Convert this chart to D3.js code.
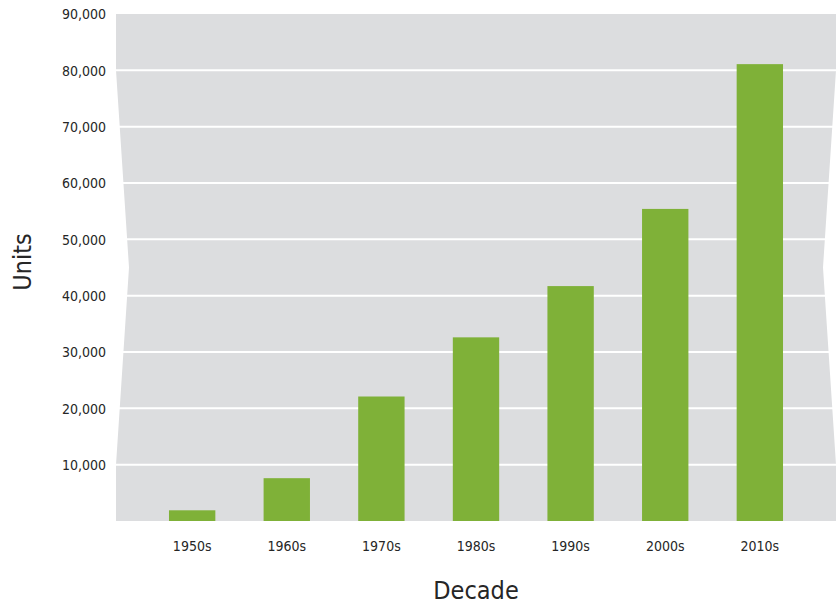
<!DOCTYPE html>
<html>
<head>
<meta charset="utf-8">
<script src="https://cdn.jsdelivr.net/npm/d3@7"></script>
<style>
  body { margin: 0; background: #fff; }
  svg text { font-family: "Liberation Sans Narrow", "DejaVu Sans Condensed", Roboto, sans-serif; fill: #262626; }
  .tick-label { font-size: 14px; }
  .axis-title { font-size: 25px; font-weight: 300; }
</style>
</head>
<body>
<svg id="chart"></svg>
<script>
// data
const decades = ["1950s", "1960s", "1970s", "1980s", "1990s", "2000s", "2010s"];
const units = [1900, 7600, 22100, 32600, 41700, 55400, 81100];
const yTicks = [10000, 20000, 30000, 40000, 50000, 60000, 70000, 80000, 90000];

const width = 836, height = 606;
const plotLeft = 116, plotRight = 836, plotTop = 14, plotBottom = 521;
const pinch = 13;  // how far the side edges bend in

const svg = d3.select("#chart")
    .attr("width", width)
    .attr("height", height);

const x = d3.scaleBand()
    .domain(decades)
    .range([plotLeft, plotRight])
    .paddingInner(0.51)
    .paddingOuter(0.56);

const y = d3.scaleLinear()
    .domain([0, 90000])
    .range([plotBottom, plotTop]);

// gray plot area, sides bent inward between 10,000 and 80,000
const bg = [
    [plotLeft, y(90000)], [plotRight, y(90000)], [plotRight, y(80000)],
    [plotRight - pinch, y(45000)], [plotRight, y(10000)], [plotRight, y(0)],
    [plotLeft, y(0)], [plotLeft, y(10000)], [plotLeft + pinch, y(45000)], [plotLeft, y(80000)]
];
svg.append("path")
    .attr("d", d3.line()(bg) + "Z")
    .attr("fill", "#dcdddf");

// gridlines
svg.append("g")
    .selectAll("line")
    .data(yTicks.filter(d => d < 90000))
    .join("line")
    .attr("x1", plotLeft)
    .attr("x2", plotRight)
    .attr("y1", d => y(d))
    .attr("y2", d => y(d))
    .attr("stroke", "#fff")
    .attr("stroke-width", 2);

// bars
svg.append("g")
    .selectAll("rect")
    .data(decades)
    .join("rect")
    .attr("x", d => x(d))
    .attr("width", x.bandwidth())
    .attr("y", (d, i) => y(units[i]))
    .attr("height", (d, i) => y(0) - y(units[i]))
    .attr("fill", "#7fb138");

// y axis labels
const yAxis = svg.append("g")
    .attr("transform", `translate(${plotLeft - 10},0)`)
    .call(d3.axisLeft(y).tickValues(yTicks).tickSize(0).tickPadding(0).tickFormat(d3.format(",")));
yAxis.select(".domain").remove();
yAxis.selectAll("text").attr("class", "tick-label").attr("dy", "0.35em");

// x axis labels
const xAxis = svg.append("g")
    .attr("transform", `translate(0,${plotBottom})`)
    .call(d3.axisBottom(x).tickSize(0).tickPadding(20));
xAxis.select(".domain").remove();
xAxis.selectAll("text").attr("class", "tick-label");

// axis titles
svg.append("text")
    .attr("class", "axis-title")
    .attr("x", 476)
    .attr("y", 599)
    .attr("text-anchor", "middle")
    .text("Decade");

svg.append("text")
    .attr("class", "axis-title")
    .attr("transform", "translate(31,262) rotate(-90)")
    .attr("text-anchor", "middle")
    .text("Units");
</script>
</body>
</html>
